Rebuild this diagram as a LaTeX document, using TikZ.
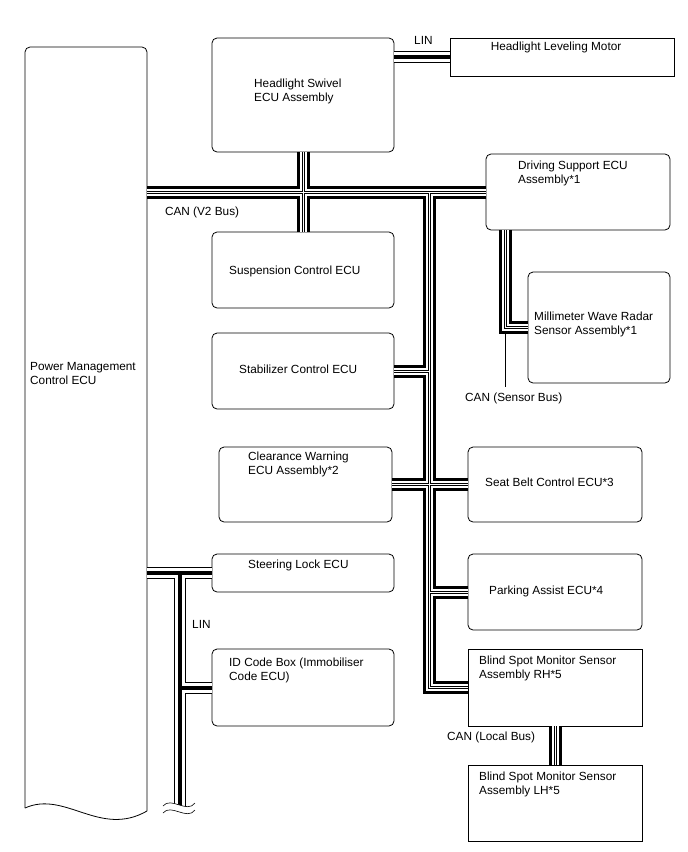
\documentclass[tikz,border=0pt]{standalone}
\usepackage{fontspec}
\setmainfont{Liberation Sans}
\usetikzlibrary{fit}

\tikzset{
  ecu/.style={draw, rounded corners=5pt, line width=0.8pt, inner sep=0pt},
  unit/.style={draw, line width=0.8pt, inner sep=0pt},
  lbl/.style={anchor=base west, align=left, inner sep=0pt, font=\fontsize{11.8}{14}\selectfont},
}

\begin{document}
\begin{tikzpicture}[x=1pt, y=-1pt]
  \useasboundingbox (0,0) rectangle (688,852);

  % Power management ECU, wavy bottom
  \node[fit={(25,47) (147,811)}, inner sep=0pt] (pmc) {};
  \draw[line width=0.8pt, rounded corners=5pt] (25,808) -- (25,47) -- (147,47) -- (147,811);
  \draw[line width=0.8pt] (147,811) .. controls (100,838) and (65,790) .. (25,808);
  \node[lbl] (pmct) at (30,384) {Power Management\\Control ECU};

  % ECU boxes
  \node[ecu, fit={(212,38) (394,152)}] (hsw) {};
  \node[unit, fit={(450,38) (674,76)}] (hlm) {};
  \node[ecu, fit={(486,154) (670,230)}] (dsu) {};
  \node[ecu, fit={(212,232) (394,308)}] (sus) {};
  \node[ecu, fit={(212,333) (394,409)}] (stab) {};
  \node[ecu, fit={(219,447) (392,522)}] (clw) {};
  \node[ecu, fit={(528,272) (670,383)}] (mwr) {};
  \node[ecu, fit={(468,447) (642,522)}] (sbc) {};
  \node[ecu, fit={(212,554) (394,592)}] (sla) {};
  \node[ecu, fit={(212,649) (394,726)}] (idb) {};
  \node[ecu, fit={(468,554) (642,630)}] (pa) {};
  \node[unit, fit={(468,649) (642,726)}] (bsr) {};
  \node[unit, fit={(468,765) (642,841)}] (bsl) {};

  % box texts (base = last line)
  \node[lbl] (hswt) at (254,101.5) {Headlight Swivel\\ECU Assembly};
  \node[lbl] (hlmt) at (490.6,50.7) {Headlight Leveling Motor};
  \node[lbl] (dsut) at (518,183) {Driving Support ECU\\Assembly*1};
  \node[lbl] (sust) at (229,274) {Suspension Control ECU};
  \node[lbl] (stabt) at (239,373) {Stabilizer Control ECU};
  \node[lbl] (clwt) at (248,474.7) {Clearance Warning\\ECU Assembly*2};
  \node[lbl] (mwrt) at (534,334.7) {Millimeter Wave Radar\\Sensor Assembly*1};
  \node[lbl] (sbct) at (485,486.7) {Seat Belt Control ECU*3};
  \node[lbl] (slat) at (248,568) {Steering Lock ECU};
  \node[lbl] (idbt) at (229,680) {ID Code Box (Immobiliser\\Code ECU)};
  \node[lbl] (pat) at (489,594) {Parking Assist ECU*4};
  \node[lbl] (bsrt) at (479,678) {Blind Spot Monitor Sensor\\Assembly RH*5};
  \node[lbl] (bslt) at (479,794) {Blind Spot Monitor Sensor\\Assembly LH*5};

  % bus labels
  \node[lbl] (linup) at (414,44) {LIN};
  \node[lbl] (v2bus) at (164.8,215.7) {CAN (V2 Bus)};
  \node[lbl] (sensbus) at (465,401) {CAN (Sensor Bus)};
  \node[lbl] (linlow) at (192,628) {LIN};
  \node[lbl] (locbus) at (447,740) {CAN (Local Bus)};

  \coordinate (vb) at (429,0);
  \coordinate (sb) at (505,0);
  \coordinate (lb) at (180,0);
  \coordinate (lbend) at (180,809);

  % CAN buses
  \foreach \w/\c in {13/black,7/white,3/black,1/white}{
    \draw[line width=\w pt, \c]
      (pmc.east |- dsu.west) -- (dsu.west)
      (hsw.south) -- (sus.north)
      (vb |- dsu.west) -- (vb |- bsr.west) -- (bsr.west)
      (stab.east) -- (vb |- stab.east)
      (clw.east) -- (sbc.west)
      (vb |- pa.west) -- (pa.west)
      (sb |- dsu.south) -- (sb |- mwr.west) -- (mwr.west)
      (bsr.south) -- (bsl.north);
  }
  \draw[line width=0.8pt, shorten >=5pt] ([yshift=-6.5pt]sb |- mwr.west) -- (sb |- sensbus.north);

  % LIN buses
  \foreach \w/\c in {12/black,10/white,4/black}{
    \draw[line width=\w pt, \c]
      (hsw.east |- hlm.west) -- (hlm.west)
      (pmc.east |- sla.west) -- (sla.west)
      (lb |- sla.west) -- (lbend)
      (lb |- idb.west) -- (idb.west);
  }

  % cut mark at lower end
  \fill[white] (163,806) .. controls (171,796) and (187,814) .. (195,803) -- (195,815) -- (163,818) -- cycle;
  \draw[line width=0.6pt] (163,806) .. controls (171,796) and (187,814) .. (195,803);
  \draw[line width=0.6pt] (163,813) .. controls (171,803) and (187,821) .. (195,810);
\end{tikzpicture}
\end{document}
